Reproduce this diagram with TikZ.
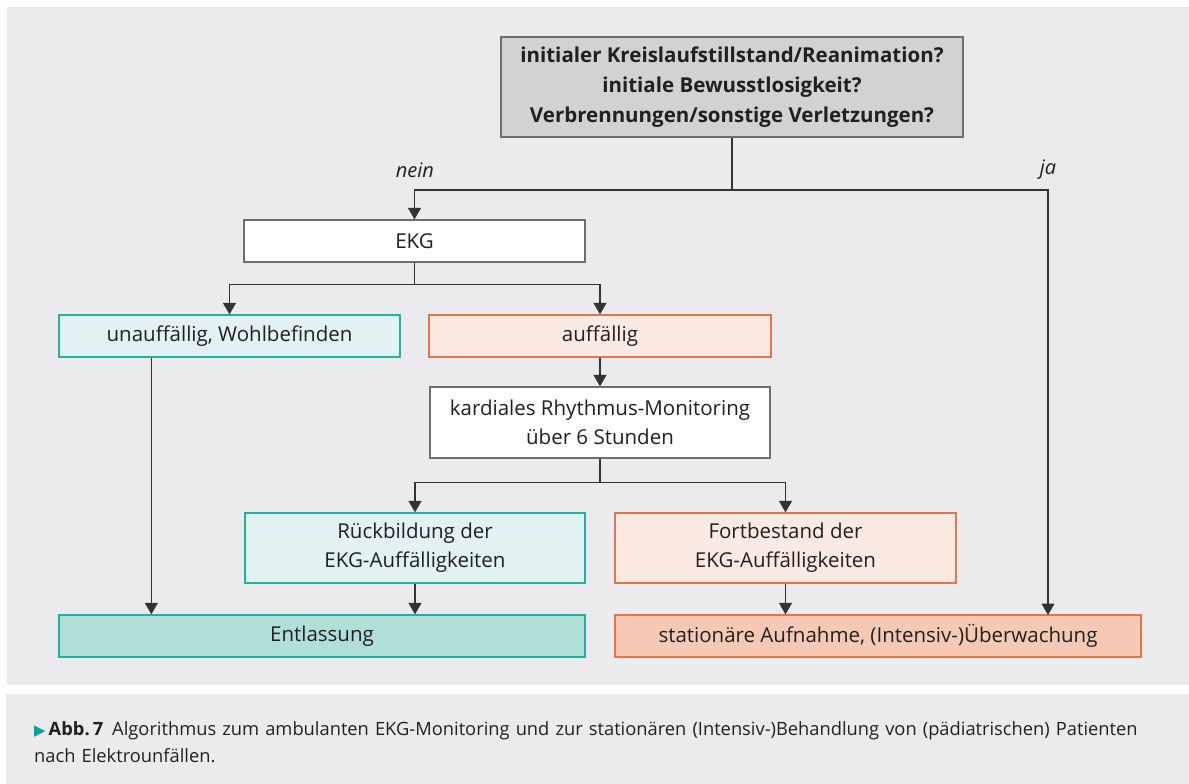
\documentclass[tikz,border=0pt]{standalone}
\usepackage{fontspec}
\setmainfont{Open Sans}
\newfontfamily\symfont{DejaVu Sans}
\usetikzlibrary{arrows.meta,calc}
\definecolor{panelbg}{HTML}{EBEBED}
\definecolor{txt}{HTML}{231F20}
\definecolor{linec}{HTML}{333333}
\definecolor{graybd}{HTML}{6D6E71}
\definecolor{grayfill}{HTML}{D1D2D4}
\definecolor{tealbd}{HTML}{1FB2A3}
\definecolor{teallight}{HTML}{E1F2F0}
\definecolor{tealdark}{HTML}{B0DED9}
\definecolor{orbd}{HTML}{E8734A}
\definecolor{orlight}{HTML}{FAEAE2}
\definecolor{ordark}{HTML}{F5C9B4}
\definecolor{capteal}{HTML}{00A39A}
\tikzset{
  box/.style={draw, line width=1.3pt, inner sep=0pt, align=center, text=txt,
     font=\fontsize{20.5}{29}\selectfont},
  whitebox/.style={box, draw=graybd, fill=white},
  graybox/.style={box, draw=graybd, fill=grayfill, font=\fontsize{20.5}{30}\selectfont\bfseries},
  tealbox/.style={box, draw=tealbd, fill=teallight},
  tealdbox/.style={box, draw=tealbd, fill=tealdark},
  orbox/.style={box, draw=orbd, fill=orlight},
  ordbox/.style={box, draw=orbd, fill=ordark},
  conn/.style={draw=linec, line width=1.3pt},
  arr/.style={conn, -{Triangle[length=11.5pt,width=13pt]}},
  lbl/.style={text=txt, font=\fontsize{20}{23}\selectfont\itshape, inner sep=0pt},
}
\begin{document}
\begin{tikzpicture}[x=1pt,y=-1pt]
\useasboundingbox (0,0) rectangle (1189,784);
\fill[white] (0,0) rectangle (1189,784);
\fill[panelbg] (7,7) rectangle (1189,685);
\fill[panelbg] (6,694) rectangle (1189,784);

\node[graybox, minimum width=462pt, minimum height=100pt] (top) at (732,87)
  {initialer Kreislaufstillstand/Reanimation?\\initiale Bewusstlosigkeit?\\Verbrennungen/sonstige Verletzungen?};
\node[whitebox, minimum width=341pt, minimum height=42pt] (ekg) at (414.5,241) {EKG};
\node[tealbox, minimum width=341pt, minimum height=42pt] (unauff) at (229.5,336) {unauffällig, Wohlbefinden};
\node[orbox, minimum width=342pt, minimum height=42pt] (auff) at (600,336) {auffällig};
\node[whitebox, minimum width=340pt, minimum height=71pt] (kard) at (600,422.5)
  {kardiales Rhythmus-Monitoring\\über 6 Stunden};
\node[tealbox, minimum width=340pt, minimum height=70pt] (rueck) at (415,548)
  {Rückbildung der\\EKG-Auffälligkeiten};
\node[orbox, minimum width=341pt, minimum height=70pt] (fort) at (785.5,548)
  {Fortbestand der\\EKG-Auffälligkeiten};
\node[tealdbox, minimum width=526pt, minimum height=42pt] (entl) at (322,636) {Entlassung};
\node[ordbox, minimum width=526pt, minimum height=42pt] (stat) at (878,636)
  {stationäre Aufnahme, (Intensiv-)Überwachung};

\node[lbl] (nein) at (415,170) {nein};
\node[lbl] (ja) at (1048,170) {ja};

\coordinate (split1) at (732,190);
\coordinate (jaend) at (1048,615);

\draw[conn] (top.south) -- (split1);
\draw[arr] (split1) -| (ekg.north);
\draw[arr] (split1) -| (jaend);

\draw[arr] (ekg.south) -- ++(0,22) -| (unauff.north);
\draw[arr] (ekg.south) -- ++(0,22) -| (auff.north);
\draw[arr] (auff.south) -- (kard.north);
\draw[arr] ([xshift=93pt]unauff.south west) -- ([xshift=93pt]entl.north west);
\draw[arr] (kard.south) -- ++(0,24) -| (rueck.north);
\draw[arr] (kard.south) -- ++(0,24) -| (fort.north);
\draw[arr] (rueck.south) -- (rueck.south |- entl.north);
\draw[arr] (fort.south) -- (fort.south |- stat.north);

\node[anchor=north west, align=left, text=txt, inner sep=0pt,
  font=\fontsize{18.3}{27}\selectfont, text width=1150pt] (cap) at (34,721)
  {{\color{capteal}\symfont\fontsize{15}{27}\selectfont ▶}\hspace{3pt}\textbf{Abb.\,7}\hspace{9pt}Algorithmus zum ambulanten EKG-Monitoring und zur stationären (Intensiv-)Behandlung von (pädiatrischen) Patienten\\nach Elektrounfällen.};
\end{tikzpicture}
\end{document}
